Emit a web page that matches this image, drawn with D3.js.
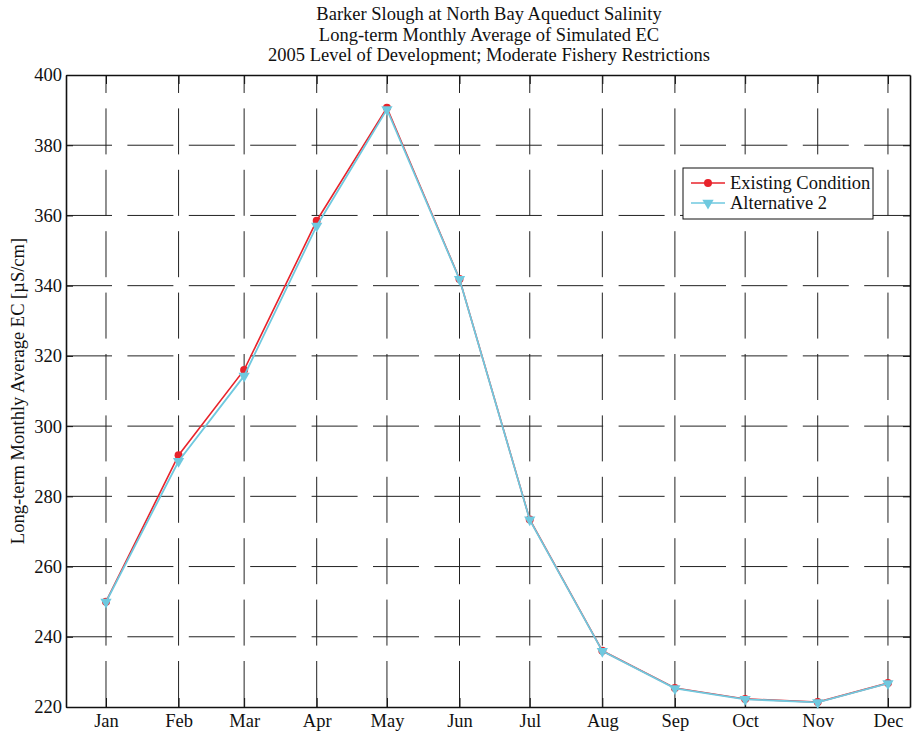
<!DOCTYPE html>
<html>
<head>
<meta charset="utf-8">
<script src="https://cdn.jsdelivr.net/npm/d3@7"></script>
<style>
  body { margin: 0; background: #fff; }
  svg { display: block; font-family: "Liberation Serif", "Times New Roman", serif; }
</style>
</head>
<body>
<svg id="chart" width="912" height="735"></svg>
<script>
// chart data
var months = ['Jan','Feb','Mar','Apr','May','Jun','Jul','Aug','Sep','Oct','Nov','Dec'];
var existing = [250.0, 291.7, 316.0, 358.5, 390.7, 341.9, 273.4, 236.0, 225.4, 222.3, 221.4, 226.8];
var alt2     = [249.9, 290.0, 314.3, 357.0, 390.2, 341.8, 273.3, 235.9, 225.3, 222.2, 221.3, 226.7];
var yTicks = [220, 240, 260, 280, 300, 320, 340, 360, 380, 400];
var titleLines = [
  'Barker Slough at North Bay Aqueduct Salinity',
  'Long-term Monthly Average of Simulated EC',
  '2005 Level of Development; Moderate Fishery Restrictions'
];
var seriesNames = ['Existing Condition', 'Alternative 2'];

var svg = d3.select('#chart');
var pLeft = 66, pRight = 910, pTop = 75, pBottom = 707;

var dates = months.map(function(m, i) { return new Date(2005, i, 1); });

var x = d3.scaleTime()
  .domain([new Date(2004, 11, 14, 22), new Date(2005, 11, 10, 10)])
  .range([pLeft, pRight]);
var y = d3.scaleLinear().domain([220, 400]).range([pBottom, pTop]);

// grid
var grid = svg.append('g').attr('stroke', '#222').attr('stroke-width', 1);
grid.selectAll('.vg').data(dates).enter().append('line')
  .attr('x1', function(d) { return x(d); }).attr('x2', function(d) { return x(d); })
  .attr('y1', pBottom).attr('y2', pTop)
  .attr('stroke-dasharray', '46,15.4');
grid.selectAll('.hg').data(yTicks.slice(1, -1)).enter().append('line')
  .attr('x1', pLeft).attr('x2', pRight)
  .attr('y1', function(d) { return y(d); }).attr('y2', function(d) { return y(d); })
  .attr('stroke-dasharray', '46,15.4');

// axes (ticks inward)
var axB = svg.append('g').attr('transform', 'translate(0,' + pBottom + ')')
  .call(d3.axisBottom(x).tickValues(dates).tickSizeInner(-9).tickSizeOuter(0)
    .tickFormat(function(d, i) { return months[i]; }));
var axT = svg.append('g').attr('transform', 'translate(0,' + pTop + ')')
  .call(d3.axisTop(x).tickValues(dates).tickSizeInner(-9).tickSizeOuter(0).tickFormat(''));
var axL = svg.append('g').attr('transform', 'translate(' + pLeft + ',0)')
  .call(d3.axisLeft(y).tickValues(yTicks).tickSizeInner(-7).tickSizeOuter(0));
var axR = svg.append('g').attr('transform', 'translate(' + pRight + ',0)')
  .call(d3.axisRight(y).tickValues(yTicks).tickSizeInner(-7).tickSizeOuter(0).tickFormat(''));

[axB, axT, axL, axR].forEach(function(a) {
  a.select('.domain').attr('stroke', '#111').attr('stroke-width', 1.6);
  a.selectAll('.tick line').attr('stroke', '#111').attr('stroke-width', 1);
  a.selectAll('text').attr('font-family', '"Liberation Serif", serif')
    .attr('font-size', 18.5).attr('fill', '#111');
});
axB.selectAll('text').attr('y', 7).attr('dy', '0.71em');
axL.selectAll('text').attr('x', -4);

// series
var line = function(vals) {
  return d3.line()
    .x(function(d, i) { return x(dates[i]); })
    .y(function(d) { return y(d); })(vals);
};
var red = '#e8232b', cyan = '#6fc9df';

svg.append('path').attr('d', line(existing)).attr('fill', 'none')
  .attr('stroke', red).attr('stroke-width', 1.6);
svg.selectAll('.dot').data(existing).enter().append('circle')
  .attr('cx', function(d, i) { return x(dates[i]); })
  .attr('cy', function(d) { return y(d); })
  .attr('r', 4).attr('fill', red);

var tri = d3.symbol().type(d3.symbolTriangle).size(55);
svg.append('path').attr('d', line(alt2)).attr('fill', 'none')
  .attr('stroke', cyan).attr('stroke-width', 1.8);
svg.selectAll('.tri').data(alt2).enter().append('path')
  .attr('d', tri)
  .attr('transform', function(d, i) { return 'translate(' + x(dates[i]) + ',' + y(d) + ') rotate(180)'; })
  .attr('fill', cyan);

// title
svg.append('g').selectAll('text').data(titleLines).enter().append('text')
  .attr('x', 489).attr('y', function(d, i) { return 20 + i * 20.5; })
  .attr('text-anchor', 'middle').attr('font-size', 18.5).attr('fill', '#111')
  .text(function(d) { return d; });

// y label
svg.append('text')
  .attr('transform', 'translate(24,' + ((pTop + pBottom) / 2) + ') rotate(-90)')
  .attr('text-anchor', 'middle').attr('font-size', 18.5).attr('fill', '#111')
  .text('Long-term Monthly Average EC [\u00b5S/cm]');

// legend
var lg = svg.append('g').attr('transform', 'translate(683,168)');
lg.append('rect').attr('width', 190).attr('height', 51)
  .attr('fill', '#fff').attr('stroke', '#111').attr('stroke-width', 1);
var entries = lg.selectAll('.entry').data(seriesNames).enter().append('g')
  .attr('transform', function(d, i) { return 'translate(0,' + (15 + i * 20) + ')'; });
entries.append('line').attr('x1', 8).attr('x2', 42)
  .attr('stroke', function(d, i) { return i ? cyan : red; }).attr('stroke-width', 1.6);
entries.append('path')
  .attr('d', function(d, i) { return i ? tri() : d3.symbol().type(d3.symbolCircle).size(50)(); })
  .attr('transform', function(d, i) { return 'translate(25,0)' + (i ? ' rotate(180)' : ''); })
  .attr('fill', function(d, i) { return i ? cyan : red; });
entries.append('text').attr('x', 47).attr('y', 6)
  .attr('font-size', 18.5).attr('fill', '#111')
  .text(function(d) { return d; });
</script>
</body>
</html>
